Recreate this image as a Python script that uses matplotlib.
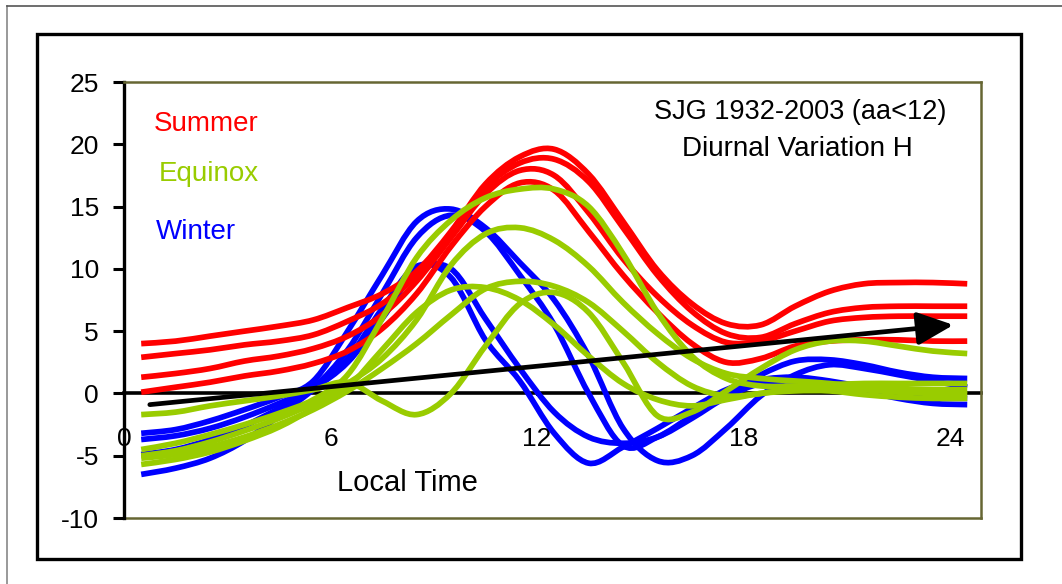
import matplotlib
matplotlib.use("Agg")
import matplotlib.pyplot as plt
from matplotlib.lines import Line2D
from matplotlib.path import Path
from matplotlib.patches import PathPatch

plt.rcParams["axes.unicode_minus"] = False

# local time (h), hourly means
hours = [0.5, 1.5, 2.5, 3.5, 4.5, 5.5, 6.5, 7.5, 8.5, 9.5, 10.5, 11.5, 12.5,
         13.5, 14.5, 15.5, 16.5, 17.5, 18.5, 19.5, 20.5, 21.5, 22.5, 23.5, 24.5]

summer = [
    [4.0, 4.2, 4.6, 5.0, 5.4, 5.9, 6.9, 8.0, 9.8, 13.0, 16.8, 19.0, 19.6, 17.6, 13.8, 9.9, 7.2, 5.6, 5.5, 7.0, 8.2, 8.8, 8.9, 8.9, 8.8],
    [2.9, 3.2, 3.5, 3.9, 4.2, 4.7, 5.8, 7.2, 9.5, 12.8, 16.5, 18.5, 18.8, 17.0, 13.3, 9.5, 6.6, 4.8, 4.5, 5.6, 6.5, 6.9, 7.0, 7.0, 7.0],
    [1.3, 1.6, 2.0, 2.6, 3.0, 3.6, 4.6, 6.3, 9.0, 12.5, 16.0, 17.9, 17.5, 14.5, 10.8, 7.8, 5.5, 4.1, 4.2, 5.0, 5.8, 6.1, 6.2, 6.2, 6.2],
    [0.1, 0.5, 0.9, 1.4, 1.8, 2.4, 3.4, 5.2, 8.0, 11.8, 15.0, 16.9, 16.3, 13.0, 9.5, 6.5, 4.0, 2.5, 2.8, 3.8, 4.2, 4.3, 4.3, 4.2, 4.2],
]

equinox = [
    [-1.7, -1.5, -1.0, -0.6, -0.2, 0.3, 0.9, -0.6, -1.7, 0.0, 3.8, 7.2, 8.1, 6.5, 2.5, -1.8, -1.5, 0.2, 2.0, 3.5, 4.2, 4.2, 3.8, 3.4, 3.2],
    [-4.5, -4.0, -3.3, -2.5, -1.6, -0.5, 1.5, 6.0, 10.9, 13.9, 15.7, 16.4, 16.4, 15.0, 11.2, 6.5, 3.0, 1.2, 0.6, 0.6, 0.7, 0.8, 0.8, 0.8, 0.8],
    [-5.0, -4.6, -3.9, -3.0, -2.0, -0.8, 0.8, 2.8, 5.9, 10.3, 12.8, 13.3, 12.3, 10.2, 7.3, 4.8, 2.8, 1.6, 1.2, 1.0, 0.8, 0.5, 0.4, 0.3, 0.3],
    [-5.2, -4.9, -4.3, -3.5, -2.5, -1.3, 0.2, 2.0, 4.0, 6.3, 8.4, 9.0, 8.6, 7.3, 5.0, 2.5, 0.6, -0.2, 0.0, 0.4, 0.5, 0.3, 0.1, 0.0, -0.1],
    [-5.7, -5.3, -4.7, -3.8, -2.7, -1.2, 0.5, 3.5, 6.5, 8.3, 8.5, 7.5, 5.5, 3.0, 0.8, -0.5, -1.0, -0.5, 0.0, 0.2, 0.2, -0.1, -0.3, -0.4, -0.4],
]

winter = [
    [-3.2, -2.9, -2.2, -1.3, -0.3, 1.0, 5.0, 9.5, 13.8, 14.8, 13.3, 10.5, 7.5, 3.0, -2.8, -5.4, -5.0, -2.8, -0.2, 1.5, 2.3, 2.0, 1.5, 1.0, 0.5],
    [-3.7, -3.4, -2.8, -1.9, -0.8, 0.5, 3.5, 8.0, 12.5, 14.3, 13.0, 9.5, 5.5, 0.0, -4.2, -3.5, -1.8, 0.0, 1.5, 2.6, 2.7, 2.3, 1.7, 1.3, 1.2],
    [-4.9, -4.5, -3.7, -2.6, -1.2, 0.5, 2.8, 6.8, 10.2, 9.3, 4.3, 1.0, -3.2, -5.6, -4.3, -2.8, -1.2, 0.3, 1.1, 1.3, 1.0, 0.5, 0.0, -0.3, -0.4],
    [-6.5, -6.0, -5.2, -3.8, -1.8, 0.3, 2.5, 6.0, 9.8, 10.0, 6.0, 2.0, -1.5, -3.5, -4.0, -3.5, -2.0, -0.3, 0.8, 1.0, 0.7, 0.2, -0.4, -0.8, -0.9],
]

trend_start = (0.75, -0.9)
trend_end = (24.1, 5.5)

RED = "#FF0000"
GREEN = "#99CC00"
BLUE = "#0000FF"
OLIVE = "#666633"
FONT = "Liberation Sans"

W, H = 1062, 584
fig = plt.figure(figsize=(W / 100, H / 100), dpi=100)


def fx(px):
    return px / W


def fy(py):
    return 1 - py / H


def smooth_path(xs, ys):
    # Excel-style smoothed line: Catmull-Rom segments as cubic Beziers
    pts = list(zip(xs, ys))
    verts = [pts[0]]
    codes = [Path.MOVETO]
    n = len(pts)
    for i in range(n - 1):
        p0 = pts[max(i - 1, 0)]
        p1 = pts[i]
        p2 = pts[i + 1]
        p3 = pts[min(i + 2, n - 1)]
        c1 = (p1[0] + (p2[0] - p0[0]) / 6, p1[1] + (p2[1] - p0[1]) / 6)
        c2 = (p2[0] - (p3[0] - p1[0]) / 6, p2[1] - (p3[1] - p1[1]) / 6)
        verts += [c1, c2, p2]
        codes += [Path.CURVE4] * 3
    return Path(verts, codes)


# outer frames
fig.add_artist(Line2D([fx(7), fx(7)], [fy(6), 0], color="#888888", lw=1.2))
fig.add_artist(Line2D([fx(7), 1], [fy(6), fy(6)], color="#555555", lw=1.2))
fig.add_artist(plt.Rectangle((fx(37), fy(559)), fx(1021) - fx(37), fy(34) - fy(559),
                             transform=fig.transFigure, fill=False, ec="black", lw=2.4))

ax = fig.add_axes([fx(124), fy(518), fx(981) - fx(124), fy(82) - fy(518)])

lw = 4.1
for group, color, z in [(winter, BLUE, 3), (summer, RED, 4), (equinox, GREEN, 5)]:
    for ys in group:
        ax.add_patch(PathPatch(smooth_path(hours, ys), fill=False, ec=color,
                               lw=lw, capstyle="butt", joinstyle="round", zorder=z))

ax.annotate("", xy=trend_end, xytext=trend_start,
            arrowprops=dict(arrowstyle="-|>,head_length=2.2,head_width=1.0",
                            color="black", lw=3.4, shrinkA=0, shrinkB=0),
            zorder=8)

ax.set_xlim(0, 24.9)
ax.set_ylim(-10, 25)
ax.set_xticks([0, 6, 12, 18, 24])
ax.set_yticks([-10, -5, 0, 5, 10, 15, 20, 25])

ax.spines["top"].set_color(OLIVE)
ax.spines["right"].set_color(OLIVE)
ax.spines["top"].set_linewidth(1.8)
ax.spines["right"].set_linewidth(1.8)
ax.spines["left"].set_linewidth(2.4)
ax.spines["bottom"].set_position(("data", 0))
ax.spines["bottom"].set_linewidth(2.6)
ax.spines["bottom"].set_zorder(2)
ax.axhline(-10, color=OLIVE, lw=1.8, clip_on=False, zorder=1)

ax.tick_params(axis="y", direction="out", length=8, width=2.2, pad=10,
               labelsize=19, labelfontfamily=FONT)
ax.tick_params(axis="x", direction="out", length=2, width=1.5, pad=22,
               labelsize=19, labelfontfamily=FONT)

ax.text(0.035, 0.903, "Summer", color=RED, fontsize=20, family=FONT,
        transform=ax.transAxes, va="center", ha="left")
ax.text(0.040, 0.788, "Equinox", color=GREEN, fontsize=20, family=FONT,
        transform=ax.transAxes, va="center", ha="left")
ax.text(0.037, 0.655, "Winter", color=BLUE, fontsize=20, family=FONT,
        transform=ax.transAxes, va="center", ha="left")

ax.text(0.789, 0.932, "SJG 1932-2003 (aa<12)", color="black", fontsize=19.5,
        family=FONT, transform=ax.transAxes, va="center", ha="center")
ax.text(0.786, 0.847, "Diurnal Variation H", color="black", fontsize=20,
        family=FONT, transform=ax.transAxes, va="center", ha="center")
ax.text(0.331, 0.080, "Local Time", color="black", fontsize=21,
        family=FONT, transform=ax.transAxes, va="center", ha="center")

fig.savefig("out.png", dpi=100)
